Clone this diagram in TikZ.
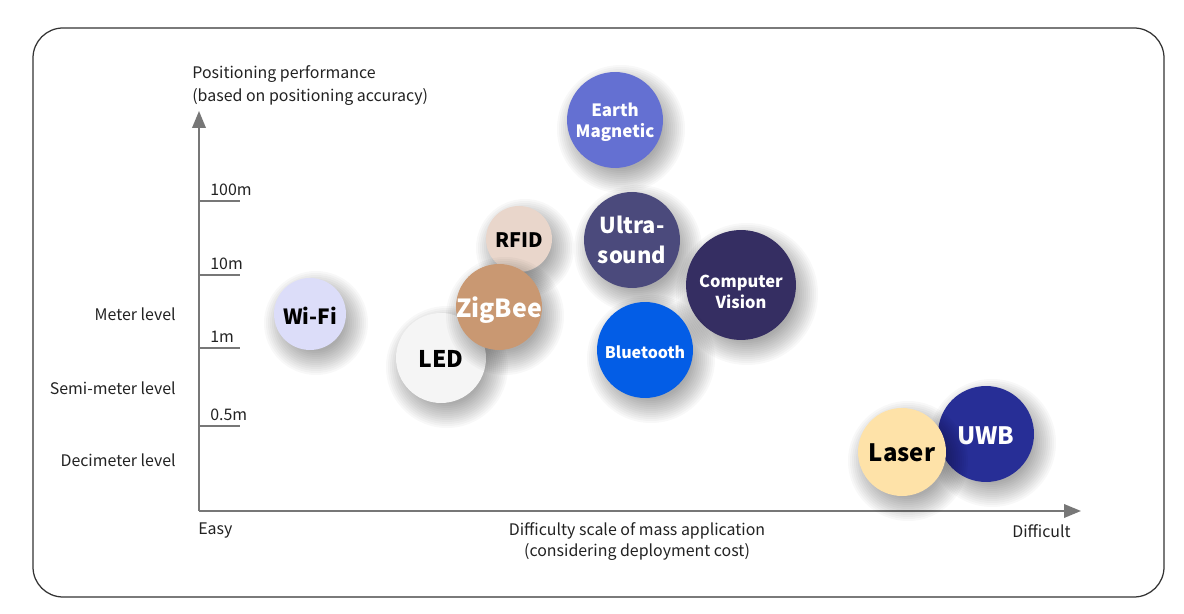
\documentclass[tikz,border=0pt]{standalone}
\usepackage{fontspec}
\setmainfont{Noto Sans CJK SC}
\usetikzlibrary{arrows.meta,calc}
\definecolor{axisgray}{HTML}{777777}
\definecolor{txt}{HTML}{222222}
\definecolor{cEM}{HTML}{6470D2}
\definecolor{cRFID}{HTML}{E9D6CB}
\definecolor{cUS}{HTML}{4B4A7C}
\definecolor{cCV}{HTML}{352E62}
\definecolor{cWIFI}{HTML}{DCDDF9}
\definecolor{cZB}{HTML}{C99872}
\definecolor{cLED}{HTML}{F5F5F5}
\definecolor{cBT}{HTML}{035DE6}
\definecolor{cLASER}{HTML}{FEE2A8}
\definecolor{cUWB}{HTML}{272E96}
\newcommand{\pxfont}[1]{\pgfmathsetmacro\myfsz{#1*0.567}\pgfmathsetmacro\myfbs{#1*0.567*1.2}\fontsize{\myfsz pt}{\myfbs pt}\selectfont}
\tikzset{
  bub/.style={circle, minimum size=#1*0.04cm, inner sep=0pt},
  shadowfill/.style={fill=black, fill opacity=0.026},
  axislabel/.style={text=txt, inner sep=0pt, font=\pxfont{16}},
  ticklabel/.style={text=txt, inner sep=0pt, anchor=west, font=\pxfont{16}},
  levellabel/.style={text=txt, inner sep=0pt, anchor=east, font=\pxfont{16}},
  axisline/.style={draw=axisgray, line width=0.04cm, -{Triangle[length=0.34cm,width=0.27cm]}},
  tickline/.style={draw=axisgray, line width=0.03cm},
}
% #1 name, #2 position, #3 radius(px), #4 fill, #5 text colour, #6 font px, #7 text, #8 text drop (px)
\newcommand{\bubble}[8]{%
  \coordinate (#1c) at (#2);
  \foreach \k in {0,...,12}{
    \fill[shadowfill] ($(#1c)+(6,9)$) circle[radius={#3+16-2*\k}];
  }
  \node[bub=#3, fill=#4,
    label={[text=#5, font=\bfseries\pxfont{#6}, align=center, inner sep=0pt, yshift=-#8*0.02cm]center:{#7}}]
    (#1) at (#1c) {};
}
\begin{document}
\begin{tikzpicture}[x=0.02cm, y=-0.02cm]
\useasboundingbox (0,0) rectangle (1184,614);
\fill[white] (0,0) rectangle (1184,614);
% frame
\draw[draw=black!80, line width=0.025cm, rounded corners=0.6cm] (33,28) rectangle (1164,597);

% axes
\coordinate (o) at (199,511);
\coordinate (ytip) at (199,111);
\coordinate (xtip) at (1081,511);
\draw[axisline] (o) -- (ytip);
\draw[axisline] (o) -- (xtip);

% ticks
\foreach \yy/\lab/\nm in {201/100m/a, 275/10m/b, 348/1m/c, 426/0.5m/d}{
  \coordinate (t\nm) at (199,\yy);
  \coordinate (te\nm) at (240,\yy);
  \draw[tickline] (t\nm) -- (te\nm);
  \node[ticklabel] (tl\nm) at (210,\yy-11) {\lab};
}

% level labels
\node[levellabel] (lvm) at (176,314) {Meter level};
\node[levellabel] (lvs) at (176,388) {Semi-meter level};
\node[levellabel] (lvd) at (176,460) {Decimeter level};

% axis titles
\node[axislabel, anchor=west] (yt1) at (192,74) {Positioning performance};
\node[axislabel, anchor=west] (yt2) at (192,97) {(based on positioning accuracy)};
\node[axislabel, anchor=west] (easy) at (198,531) {Easy};
\node[axislabel] (xt1) at (637,531) {Difficulty scale of mass application};
\node[axislabel] (xt2) at (637,552) {(considering deployment cost)};
\node[axislabel, anchor=east] (diff) at (1071,531) {Difficult};

% bubbles
\bubble{em}{615,120}{48}{cEM}{white}{17}{Earth\\[0.5pt]Magnetic}{2}
\bubble{rfid}{519,239}{33}{cRFID}{black}{20}{RFID}{1}
\bubble{us}{632,240}{48}{cUS}{white}{22}{Ultra-\\[2.5pt]sound}{0}
\bubble{cv}{741,285}{55}{cCV}{white}{16.5}{Computer\\[0.5pt]Vision}{7}
\bubble{wifi}{310,314}{36}{cWIFI}{black}{21}{Wi-Fi}{2}
\bubble{led}{441,358}{45}{cLED}{black}{23}{LED}{1}
\bubble{zb}{499,307}{43}{cZB}{white}{25}{ZigBee}{3}
\bubble{bt}{645,350}{48}{cBT}{white}{16}{Bluetooth}{2}
\bubble{uwb}{986,434}{48}{cUWB}{white}{24}{UWB}{2}
\bubble{laser}{902,452}{44}{cLASER}{black}{24}{Laser}{1}
\end{tikzpicture}
\end{document}
